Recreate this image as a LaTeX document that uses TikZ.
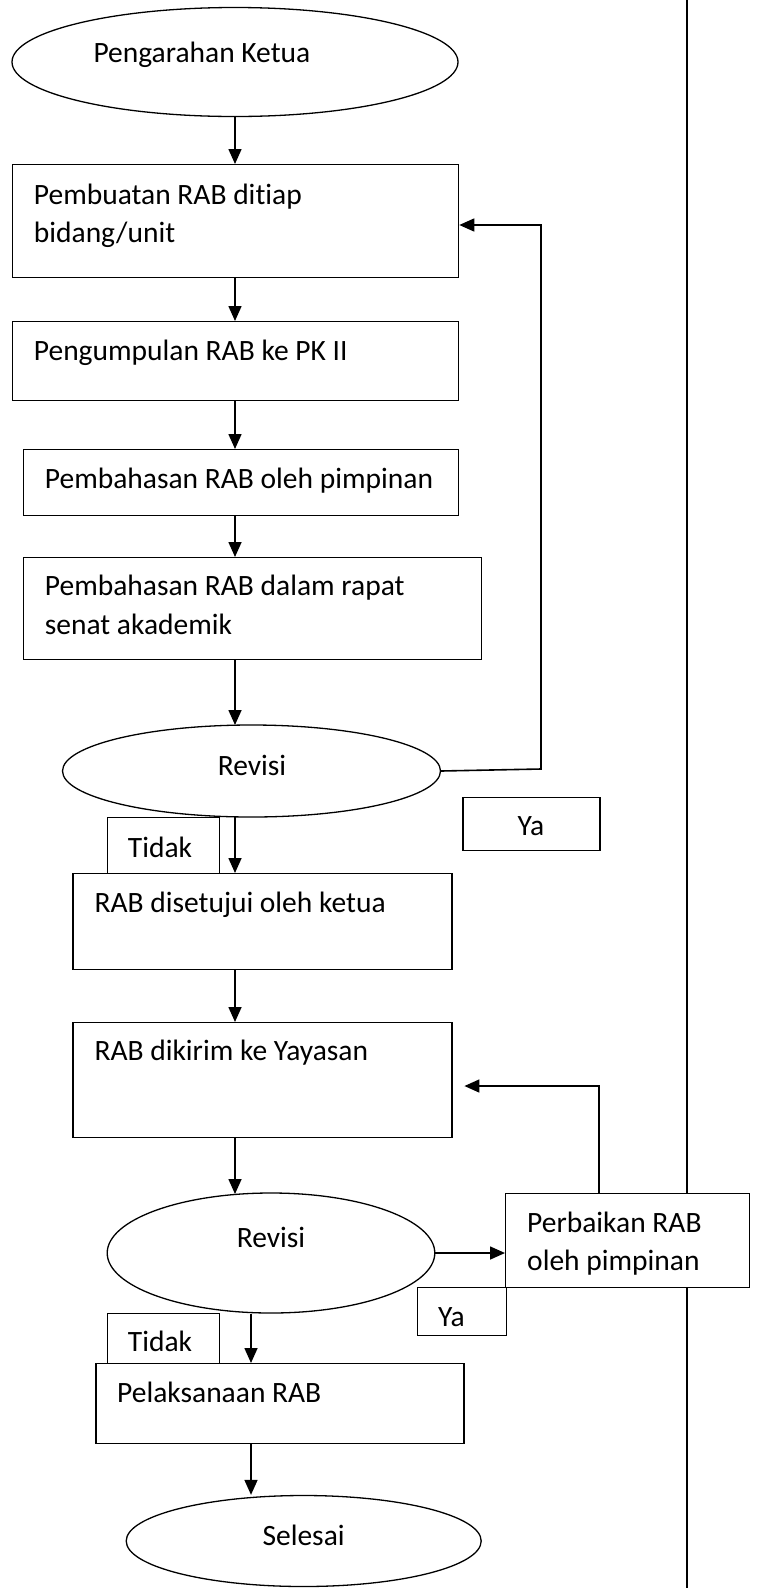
\documentclass[tikz,border=0pt]{standalone}
\usepackage{fontspec}
\setmainfont{Carlito}[Ligatures=CommonOff]
\usetikzlibrary{arrows.meta,shapes.geometric}
\begin{document}
\begin{tikzpicture}[x=1pt,y=-1pt,
 box/.style={draw, line width=1.3pt, rectangle, inner sep=0pt, anchor=north west},
 wbox/.style={box, fill=white},
 oval/.style={draw, line width=1.3pt, ellipse, inner sep=0pt},
 txt/.style={anchor=base west, inner sep=0pt, font=\fontsize{29.5}{38}\selectfont},
 arr/.style={line width=1.6pt, -{Triangle[length=15pt,width=13pt]}},
 conn/.style={line width=1.6pt}]
\useasboundingbox (0,0) rectangle (757,1588);
% long vertical line on the right
\coordinate (lt) at (687,0);
\coordinate (lb) at (687,1588);
\draw[line width=1.4pt] (lt) -- (lb);
% columns for the main arrows
\coordinate (colA) at (235,0);
\coordinate (colB) at (251,0);
% shapes
\node[oval, minimum width=446pt, minimum height=109pt] (e1) at (235,62) {};
\node[box, minimum width=446pt, minimum height=113pt] (b1) at (12,164) {};
\node[box, minimum width=446pt, minimum height=79pt] (b2) at (12,321) {};
\node[box, minimum width=435pt, minimum height=66pt] (b3) at (23,449) {};
\node[box, minimum width=458pt, minimum height=102pt] (b4) at (23,557) {};
\node[oval, minimum width=378pt, minimum height=92pt] (r1) at (251.5,771) {};
\node[box, minimum width=137pt, minimum height=53pt] (ya1) at (462.4,797) {};
\node[box, minimum width=112pt, minimum height=56pt] (td1) at (107,817) {};
\node[box, minimum width=379pt, minimum height=96pt] (b5) at (72.4,873) {};
\node[box, minimum width=379pt, minimum height=115pt] (b6) at (72.4,1022) {};
\node[oval, minimum width=327.6pt, minimum height=120pt] (r2) at (271,1253) {};
\node[wbox, minimum width=244pt, minimum height=94pt] (b7) at (505,1193) {};
\node[box, minimum width=89pt, minimum height=48pt] (ya2) at (417,1287) {};
\node[box, minimum width=112pt, minimum height=50pt] (td2) at (107,1313) {};
\node[box, minimum width=368pt, minimum height=80pt] (b8) at (95.3,1363) {};
\node[oval, minimum width=355pt, minimum height=91pt] (e2) at (303.7,1541) {};
% texts
\node[txt] (t1) at (93.3,62) {Pengarahan Ketua};
\node[txt] (t2a) at (33.7,204) {Pembuatan RAB ditiap};
\node[txt] (t2b) at (33.7,242) {bidang/unit};
\node[txt] (t3) at (33.7,360) {Pengumpulan RAB ke PK II};
\node[txt] (t4) at (44.7,488) {Pembahasan RAB oleh pimpinan};
\node[txt] (t5a) at (44.7,595) {Pembahasan RAB dalam rapat};
\node[txt] (t5b) at (44.7,634) {senat akademik};
\node[txt, anchor=base] (t6) at (252,775) {Revisi};
\node[txt, anchor=base] (t7) at (531,835) {Ya};
\node[txt, anchor=base] (t8) at (160,857) {Tidak};
\node[txt] (t9) at (94.3,912) {RAB disetujui oleh ketua};
\node[txt] (t10) at (94.3,1060) {RAB dikirim ke Yayasan};
\node[txt, anchor=base] (t11) at (271,1247) {Revisi};
\node[txt] (t12a) at (527,1232) {Perbaikan RAB};
\node[txt] (t12b) at (527,1270) {oleh pimpinan};
\node[txt] (t13) at (438,1326) {Ya};
\node[txt, anchor=base] (t14) at (160,1351) {Tidak};
\node[txt] (t15) at (117,1402) {Pelaksanaan RAB};
\node[txt, anchor=base] (t16) at (303.6,1545) {Selesai};
% connectors
\draw[arr] (colA |- e1.south) -- (colA |- b1.north);
\draw[arr] (colA |- b1.south) -- (colA |- b2.north);
\draw[arr] (colA |- b2.south) -- (colA |- b3.north);
\draw[arr] (colA |- b3.south) -- (colA |- b4.north);
\draw[arr] (colA |- b4.south) -- (235,725);
\draw[arr] (235,817) -- (colA |- b5.north);
\draw[arr] (r1.east) -- (541,769) -- (541,225) -- (b1.east |- 0,225);
\draw[arr] (colA |- b5.south) -- (colA |- b6.north);
\draw[arr] (colA |- b6.south) -- (235,1194);
\draw[arr] (r2.east) -- (b7.west |- r2.east);
\coordinate (fb) at (464.4,1086);
\draw[arr] (599,1193) -- (599,1086) -- (fb);
\draw[arr] (colB |- r2.south) -- (colB |- b8.north);
\draw[arr] (colB |- b8.south) -- (colB |- e2.north);
\end{tikzpicture}
\end{document}
